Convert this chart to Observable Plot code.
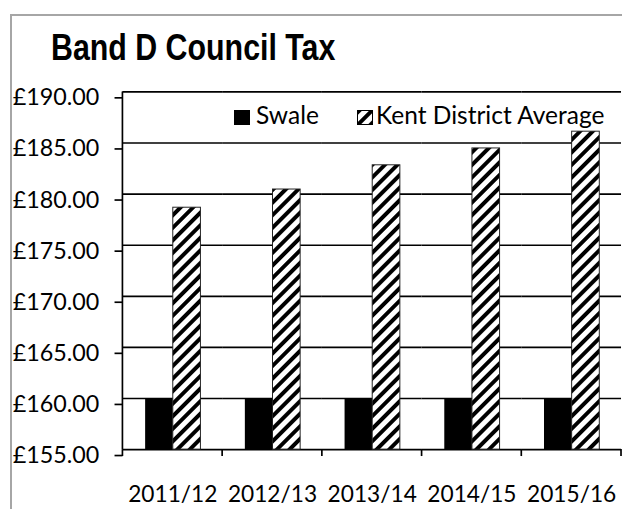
<!DOCTYPE html>
<html>
<head>
<meta charset="utf-8">
<script src="https://cdn.jsdelivr.net/npm/d3@7"></script>
<script src="https://cdn.jsdelivr.net/npm/@observablehq/plot@0.6"></script>
<style>
  html, body { margin: 0; padding: 0; background: #fff; width: 622px; height: 509px; overflow: hidden; }
  #wrap { position: relative; width: 622px; height: 509px; overflow: hidden; }
  #frame { position: absolute; left: 10px; top: 14px; width: 700px; height: 600px;
           border-top: 2px solid #a6a6a6; border-left: 2px solid #a6a6a6; box-sizing: border-box; }
  #title { position: absolute; left: 51px; top: 28.7px; margin: 0; white-space: nowrap;
           font-family: "Liberation Sans Narrow", "Arial Narrow", "Liberation Sans", sans-serif;
           font-weight: bold; font-size: 37px; line-height: 1; color: #000;
           transform: scaleX(0.82); transform-origin: 0 0; }
  #chart { position: absolute; left: 0; top: 70px; }
  .lg { position: absolute; font-family: Lato, sans-serif; font-size: 24.5px; line-height: 1; color: #000; white-space: nowrap; }
  .sw { position: absolute; }
</style>
</head>
<body>
<div id="wrap">
  <div id="frame"></div>
  <div id="title">Band D Council Tax</div>
  <div id="chart"></div>
  <svg class="sw" style="left:234px; top:110px" width="16" height="15"><rect width="16" height="15" fill="#000"/></svg>
  <div class="lg" id="lg1" style="left:256px; top:102.6px"></div>
  <svg class="sw" style="left:357px; top:110px" width="16" height="15">
    <defs>
      <pattern id="hatchLegend" patternUnits="userSpaceOnUse" width="9" height="9" patternTransform="rotate(45)">
        <rect width="9" height="9" fill="#fff"/><rect width="4" height="9" fill="#000"/>
      </pattern>
    </defs>
    <rect x="0.5" y="0.5" width="15" height="14" fill="url(#hatchLegend)" stroke="#000" stroke-width="1"/>
  </svg>
  <div class="lg" id="lg2" style="left:376px; top:102.6px"></div>
</div>
<script>
// ---- data ----
const categories = ["2011/12", "2012/13", "2013/14", "2014/15", "2015/16"];
const seriesNames = ["Swale", "Kent District Average"];
const swaleValues = [160.00, 160.00, 160.00, 160.00, 160.00];
const kentValues = [178.67, 180.45, 182.82, 184.47, 186.11];
const yTicks = [155, 160, 165, 170, 175, 180, 185, 190];

const swaleData = categories.map((c, i) => ({year: c, series: seriesNames[0], value: swaleValues[i]}));
const kentData = categories.map((c, i) => ({year: c, series: seriesNames[1], value: kentValues[i]}));

document.getElementById("lg1").textContent = seriesNames[0];
document.getElementById("lg2").textContent = seriesNames[1];

const chart = Plot.plot({
  width: 630,
  height: 439,
  marginLeft: 123,
  marginRight: 0,
  marginTop: 21.7,
  marginBottom: 55,
  style: {fontFamily: "Lato, sans-serif", fontSize: "23px", color: "#000", background: "transparent", overflow: "visible"},
  fx: {domain: categories, paddingInner: 0, paddingOuter: 0, label: null, axis: null},
  x: {domain: seriesNames, paddingInner: 0, paddingOuter: 0.746, axis: null},
  y: {domain: [yTicks[0], yTicks[yTicks.length - 1]], label: null},
  marks: [
    Plot.ruleY(yTicks, {stroke: "#000", strokeWidth: 1.7}),
    Plot.barY(swaleData, {fx: "year", x: "series", y1: yTicks[0], y2: "value", fill: "#000"}),
    Plot.barY(kentData, {fx: "year", x: "series", y1: yTicks[0], y2: "value", fill: "url(#hatch)", stroke: "#222", strokeWidth: 1}),
    Plot.axisY(yTicks, {tickSize: 8, tickPadding: 16, tickFormat: d => "£" + d.toFixed(2), dy: 6, strokeWidth: 1.7, fontSize: 23.6, label: null}),
    Plot.axisFx({anchor: "bottom", tickSize: 0, tickPadding: 37, fontSize: 23, label: null})
  ]
});

// pattern definition used by the Kent bars
d3.select(chart).insert("defs", ":first-child").html(
  '<pattern id="hatch" patternUnits="userSpaceOnUse" width="9" height="9" patternTransform="rotate(45)">' +
  '<rect width="9" height="9" fill="#fff"/><rect width="4" height="9" fill="#000"/></pattern>'
);

// axis line and category-boundary ticks, positioned through Plot's own scales
const fx = chart.scale("fx");
const ys = chart.scale("y");
const base = ys.apply(yTicks[0]);
const topY = ys.apply(yTicks[yTicks.length - 1]);
const g = d3.select(chart).append("g").attr("stroke", "#000").attr("stroke-width", 1.7);
const x0 = fx.apply(categories[0]);
g.append("line").attr("x1", x0).attr("x2", x0).attr("y1", topY).attr("y2", base);
const bounds = categories.map(c => fx.apply(c)).concat([fx.apply(categories[categories.length - 1]) + fx.bandwidth]);
bounds.forEach(b => g.append("line").attr("x1", b).attr("x2", b).attr("y1", base).attr("y2", base + 7));

document.getElementById("chart").appendChild(chart);
</script>
</body>
</html>
